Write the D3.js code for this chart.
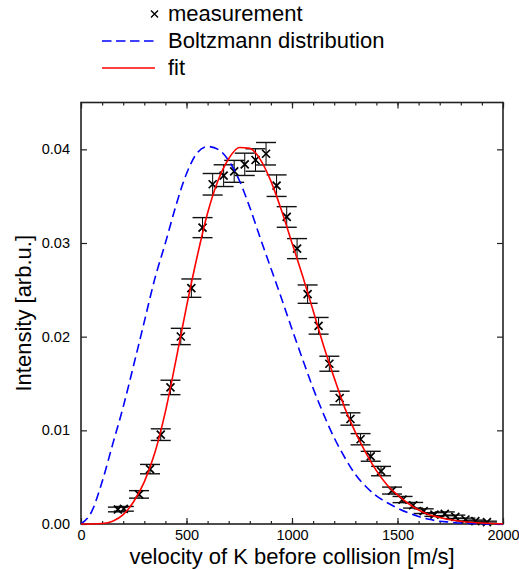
<!DOCTYPE html>
<html><head><meta charset="utf-8">
<script src="https://cdn.jsdelivr.net/npm/d3@7"></script>
<style>
body{margin:0;background:#fff}
svg{display:block}
text{font-family:"Liberation Sans",Arial,Helvetica,sans-serif;fill:#000}
</style>
</head><body>
<svg id="chart" width="519" height="569"></svg>
<script>
// ---- data ----
const measV   = [175,203,275,327,378,424,473,523,576,624,676,726,776,827,877,927,975,1024,1074,1126,1177,1226,1277,1325,1373,1422,1474,1524,1574,1624,1675,1724,1774,1822,1869,1924];
const measI   = [0.00155,0.00162,0.00316,0.00586,0.00954,0.01458,0.02002,0.02518,0.03164,0.03627,0.03719,0.03765,0.0384,0.03886,0.03953,0.03612,0.03278,0.0294,0.02454,0.02116,0.01711,0.01345,0.01121,0.00905,0.00723,0.00565,0.00357,0.00261,0.0020,0.00137,0.00101,0.00109,0.00077,0.00048,0.0003,0.0002];
const measErr = [0.00025,0.00025,0.0004,0.0005,0.00062,0.00077,0.00087,0.00098,0.00107,0.00115,0.00116,0.00117,0.00119,0.0012,0.0012,0.00115,0.0011,0.00107,0.00098,0.00089,0.0008,0.00073,0.00066,0.0006,0.00053,0.0005,0.00037,0.00033,0.0003,0.00025,0.0002,0.0002,0.00018,0.00015,0.00012,0.0001];

const curveV = [0,50,100,150,200,250,300,350,400,450,500,550,600,650,700,750,800,850,900,950,1000,1050,1100,1150,1200,1250,1300,1350,1400,1450,1500,1550,1600,1650,1700,1750,1800,1850,1900,1950,2000];
const boltzmannI = [0,0.0013,0.0045,0.0085,0.0125,0.0170,0.0216,0.0262,0.0300,0.0340,0.0374,0.0396,0.0403,0.0400,0.0388,0.0367,0.0338,0.0305,0.0273,0.0241,0.0208,0.0176,0.0145,0.0117,0.0092,0.0071,0.0053,0.0040,0.0030,0.0023,0.0017,0.0012,0.0008,0.0005,0.0003,0.0002,0.0001,0.00006,0.00003,0.00001,0];
const fitI = [0,0,0.00005,0.0003,0.0010,0.0024,0.0045,0.0076,0.0120,0.0175,0.0232,0.0285,0.0332,0.0367,0.0390,0.0402,0.0401,0.0389,0.0366,0.0335,0.0300,0.0265,0.0228,0.0190,0.0156,0.0124,0.0098,0.0076,0.0057,0.0042,0.0031,0.0022,0.0015,0.0010,0.0007,0.00045,0.0003,0.00018,0.0001,0.00005,0.00002];

const xTicks = [0,500,1000,1500,2000];
const xMinorTicks = [0,100,200,300,400,500,600,700,800,900,1000,1100,1200,1300,1400,1500,1600,1700,1800,1900,2000];
const yTicks = [0,0.01,0.02,0.03,0.04];
const legendLabels = ["measurement","Boltzmann distribution","fit"];
const xTitle = "velocity of K before collision [m/s]";
const yTitle = "Intensity [arb.u.]";

// ---- drawing ----
const svg = d3.select("#chart");
const L = 81, R = 503, T = 102.5, B = 524;
const x = d3.scaleLinear().domain([0,2000]).range([L,R]);
const y = d3.scaleLinear().domain([0,0.045]).range([B,T]);
const frameColor = "#222";

function styleAxis(g, labels){
  g.select(".domain").remove();
  g.selectAll(".tick line").attr("stroke",frameColor).attr("stroke-width",1.2);
  if(!labels) g.selectAll(".tick text").remove();
  else g.selectAll(".tick text").style("font-size","14.5px").style("font-family",'"Liberation Sans",Arial,sans-serif').attr("fill","#000");
}

// minor ticks bottom/top
svg.append("g").attr("transform",`translate(0,${B})`)
  .call(d3.axisBottom(x).tickValues(xMinorTicks).tickSizeInner(-3).tickSizeOuter(0).tickFormat(""))
  .call(g=>styleAxis(g,false));
svg.append("g").attr("transform",`translate(0,${T})`)
  .call(d3.axisTop(x).tickValues(xMinorTicks).tickSizeInner(-3).tickSizeOuter(0).tickFormat(""))
  .call(g=>styleAxis(g,false));
// major ticks
svg.append("g").attr("transform",`translate(0,${B})`)
  .call(d3.axisBottom(x).tickValues(xTicks).tickSizeInner(-6).tickSizeOuter(0).tickPadding(5.5).tickFormat(d3.format("d")))
  .call(g=>styleAxis(g,true));
svg.append("g").attr("transform",`translate(0,${T})`)
  .call(d3.axisTop(x).tickValues(xTicks).tickSizeInner(-6).tickSizeOuter(0).tickFormat(""))
  .call(g=>styleAxis(g,false));
svg.append("g").attr("transform",`translate(${L},0)`)
  .call(d3.axisLeft(y).tickValues(yTicks).tickSizeInner(-6).tickSizeOuter(0).tickPadding(11).tickFormat(d3.format(".2f")))
  .call(g=>styleAxis(g,true));
svg.append("g").attr("transform",`translate(${R},0)`)
  .call(d3.axisRight(y).tickValues(yTicks).tickSizeInner(-6).tickSizeOuter(0).tickFormat(""))
  .call(g=>styleAxis(g,false));

// frame
svg.append("rect").attr("x",L).attr("y",T).attr("width",R-L).attr("height",B-T)
  .attr("fill","none").attr("stroke",frameColor).attr("stroke-width",1.6);

// curves
const line = d3.line().x(d=>x(d[0])).y(d=>y(d[1])).curve(d3.curveMonotoneX);
const bData = curveV.map((v,i)=>[v,boltzmannI[i]]);
const fData = curveV.map((v,i)=>[v,fitI[i]]);

// measurements
const meas = measV.map((v,i)=>({v, I:measI[i], e:measErr[i]}));
const mg = svg.append("g");
const capW = 10;
mg.selectAll("line.eb").data(meas).join("line").attr("class","eb")
  .attr("x1",d=>x(d.v)).attr("x2",d=>x(d.v))
  .attr("y1",d=>y(d.I-d.e)).attr("y2",d=>y(d.I+d.e))
  .attr("stroke","#000").attr("stroke-width",1);
["top","bot"].forEach(k=>{
  mg.selectAll("line.cap"+k).data(meas).join("line").attr("class","cap"+k)
    .attr("x1",d=>x(d.v)-capW).attr("x2",d=>x(d.v)+capW)
    .attr("y1",d=>y(k==="top"?d.I+d.e:d.I-d.e)).attr("y2",d=>y(k==="top"?d.I+d.e:d.I-d.e))
    .attr("stroke","#111").attr("stroke-width",1.4);
});
const xMark = "M-4,-4L4,4M-4,4L4,-4";
mg.selectAll("path.m").data(meas).join("path").attr("class","m")
  .attr("transform",d=>`translate(${x(d.v)},${y(d.I)})`)
  .attr("d",xMark).attr("stroke","#000").attr("stroke-width",1.7).attr("fill","none");

svg.append("path").datum(bData).attr("d",line).attr("fill","none")
  .attr("stroke","#0000ff").attr("stroke-width",1.6).attr("stroke-dasharray","9,5");
svg.append("path").datum(fData).attr("d",line).attr("fill","none")
  .attr("stroke","#ff0000").attr("stroke-width",1.6);

// axis titles
svg.append("text").attr("x",(L+R)/2).attr("y",564).attr("text-anchor","middle")
  .style("font-size","22px").text(xTitle);
svg.append("text").attr("transform",`translate(31,${(T+B)/2}) rotate(-90)`).attr("text-anchor","middle")
  .style("font-size","22px").text(yTitle);

// legend
const lg = svg.append("g");
const rows = [21,48,75];
const lx0 = 102, lx1 = 155, tx = 168;
lg.append("path").attr("transform",`translate(${(lx0+lx1)/2+26},${rows[0]-7})`)
  .attr("d","M-3.5,-3.5L3.5,3.5M-3.5,3.5L3.5,-3.5").attr("stroke","#000").attr("stroke-width",1.4);
lg.append("line").attr("x1",lx0).attr("x2",lx1).attr("y1",rows[1]-7).attr("y2",rows[1]-7)
  .attr("stroke","#0000ff").attr("stroke-width",1.6).attr("stroke-dasharray","9.5,4.5");
lg.append("line").attr("x1",lx0).attr("x2",lx1).attr("y1",rows[2]-7).attr("y2",rows[2]-7)
  .attr("stroke","#ff0000").attr("stroke-width",1.6);
legendLabels.forEach((t,i)=>{
  lg.append("text").attr("x",tx).attr("y",rows[i]).style("font-size","22px").text(t);
});
</script>
</body></html>
